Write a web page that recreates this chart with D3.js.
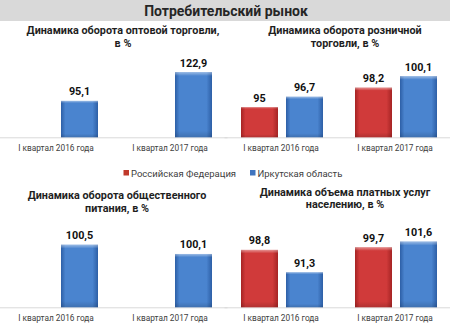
<!DOCTYPE html>
<html><head><meta charset="utf-8">
<script src="https://cdn.jsdelivr.net/npm/d3@7"></script>
<style>html,body{margin:0;padding:0;background:#fff;}svg{display:block;}</style>
</head><body>
<script>
const headerTitle = "Потребительский рынок";
const categories = ["I квартал 2016 года", "I квартал 2017 года"];
const seriesNames = ["Российская Федерация", "Иркутская область"];
const panelTitles = [
  ["Динамика оборота оптовой торговли,", "в %"],
  ["Динамика оборота розничной", "торговли, в %"],
  ["Динамика оборота общественного", "питания, в %"],
  ["Динамика объема платных услуг", "населению, в %"]
];
const rfValues  = [[null, null], [95, 98.2], [null, null], [98.8, 99.7]];
const irkValues = [[95.1, 122.9], [96.7, 100.1], [100.5, 100.1], [91.3, 101.6]];
const valueLabels = [["", ""], ["95", "98,2"], ["", ""], ["98,8", "99,7"]];
const irkLabels = [["95,1", "122,9"], ["96,7", "100,1"], ["100,5", "100,1"], ["91,3", "101,6"]];
const axisMin = [60, 90, 97.8, 79.5];
const axisMax = [140, 103.7, 101.38, 107.4];

const W = 450, H = 335;
const svg = d3.select("body").append("svg").attr("width", W).attr("height", H);
const defs = svg.append("defs");
function grad(id, edge, mid) {
  const g = defs.append("linearGradient").attr("id", id).attr("x1", 0).attr("x2", 1).attr("y1", 0).attr("y2", 0);
  g.append("stop").attr("offset", "0%").attr("stop-color", edge);
  g.append("stop").attr("offset", "12%").attr("stop-color", mid);
  g.append("stop").attr("offset", "85%").attr("stop-color", mid);
  g.append("stop").attr("offset", "100%").attr("stop-color", edge);
  const v = defs.append("linearGradient").attr("id", id + "v").attr("x1", 0).attr("x2", 0).attr("y1", 0).attr("y2", 1);
  v.append("stop").attr("offset", "0%").attr("stop-color", "#fff").attr("stop-opacity", 0.45);
  v.append("stop").attr("offset", "6%").attr("stop-color", "#fff").attr("stop-opacity", 0.0);
  v.append("stop").attr("offset", "90%").attr("stop-color", "#000").attr("stop-opacity", 0.0);
  v.append("stop").attr("offset", "100%").attr("stop-color", "#000").attr("stop-opacity", 0.15);
}
grad("gRed", "#a52424", "#d03a3a");
grad("gBlue", "#2d5fa6", "#4a84cf");
const fills = ["gRed", "gBlue"];
const legendColors = ["#c0392b", "#3f74bf"];

// header
svg.append("rect").attr("x", 0).attr("y", 0).attr("width", W).attr("height", 21).attr("fill", "#d9d9d9");
svg.append("text").attr("x", 226).attr("y", 15.5).attr("text-anchor", "middle")
  .attr("font-family", "Roboto").attr("font-weight", "bold").attr("font-size", 14)
  .attr("fill", "#262626").text(headerTitle);

const panels = [
  {x0: 0, base: 137.3, top: 54.3, titleX: 123, titleY: 33.5, lineH: 13.7},
  {x0: 225, base: 137.3, top: 54.3, titleX: 345, titleY: 33.5, lineH: 13.7},
  {x0: 0, base: 307.3, top: 224.3, titleX: 117, titleY: 199, lineH: 12.5},
  {x0: 225, base: 307.3, top: 224.3, titleX: 345, titleY: 196, lineH: 12},
];

const x = d3.scaleBand().domain(categories).range([0, 228]);
const xs = d3.scaleBand().domain([0, 1]).range([-41, 41]).paddingInner(0.1778);

panels.forEach((p, i) => {
  const g = svg.append("g").attr("transform", `translate(${p.x0},0)`);
  const y = d3.scaleLinear().domain([axisMin[i], axisMax[i]]).range([p.base, p.top]);
  // title
  const t = svg.append("text").attr("text-anchor", "middle")
    .attr("font-family", "Roboto").attr("font-weight", "bold").attr("font-size", 10.8).attr("fill", "#1f1f1f");
  panelTitles[i].forEach((line, k) => {
    t.append("tspan").attr("x", p.titleX).attr("y", p.titleY + k * p.lineH).text(line);
  });
  // axis
  const ax = g.append("g").attr("transform", `translate(-1,${p.base})`)
    .call(d3.axisBottom(x).tickSize(0).tickPadding(7.5));
  ax.select(".domain").attr("stroke", "#d9d9d9").attr("stroke-width", 1);
  ax.selectAll("text").attr("font-family", "Roboto").attr("font-size", 8.3).attr("fill", "#404040");

  const series = [rfValues[i], irkValues[i]];
  const labels = [valueLabels[i], irkLabels[i]];
  series.forEach((vals, s) => {
    vals.forEach((v, c) => {
      if (v === null) return;
      const bx = x(categories[c]) + x.bandwidth() / 2 + xs(s);
      const by = y(v);
      g.append("rect").attr("x", bx).attr("y", by).attr("width", xs.bandwidth())
        .attr("height", p.base - by).attr("fill", `url(#${fills[s]})`);
      g.append("rect").attr("x", bx).attr("y", by).attr("width", xs.bandwidth())
        .attr("height", p.base - by).attr("fill", `url(#${fills[s]}v)`);
      g.append("text").attr("x", bx + xs.bandwidth() / 2).attr("y", by - 5.5)
        .attr("text-anchor", "middle").attr("font-family", "Roboto").attr("font-weight", "bold")
        .attr("font-size", 10.8).attr("fill", "#111").text(labels[s][c]);
    });
  });
});

// legend
const legX = [123.5, 250];
seriesNames.forEach((n, s) => {
  svg.append("rect").attr("x", legX[s]).attr("y", 170).attr("width", 5.5).attr("height", 5.5).attr("fill", legendColors[s]);
  svg.append("text").attr("x", legX[s] + 7.5).attr("y", 176.5).attr("font-family", "Roboto")
    .attr("font-size", 9.5).attr("fill", "#404040").text(n);
});
</script>
</body></html>
